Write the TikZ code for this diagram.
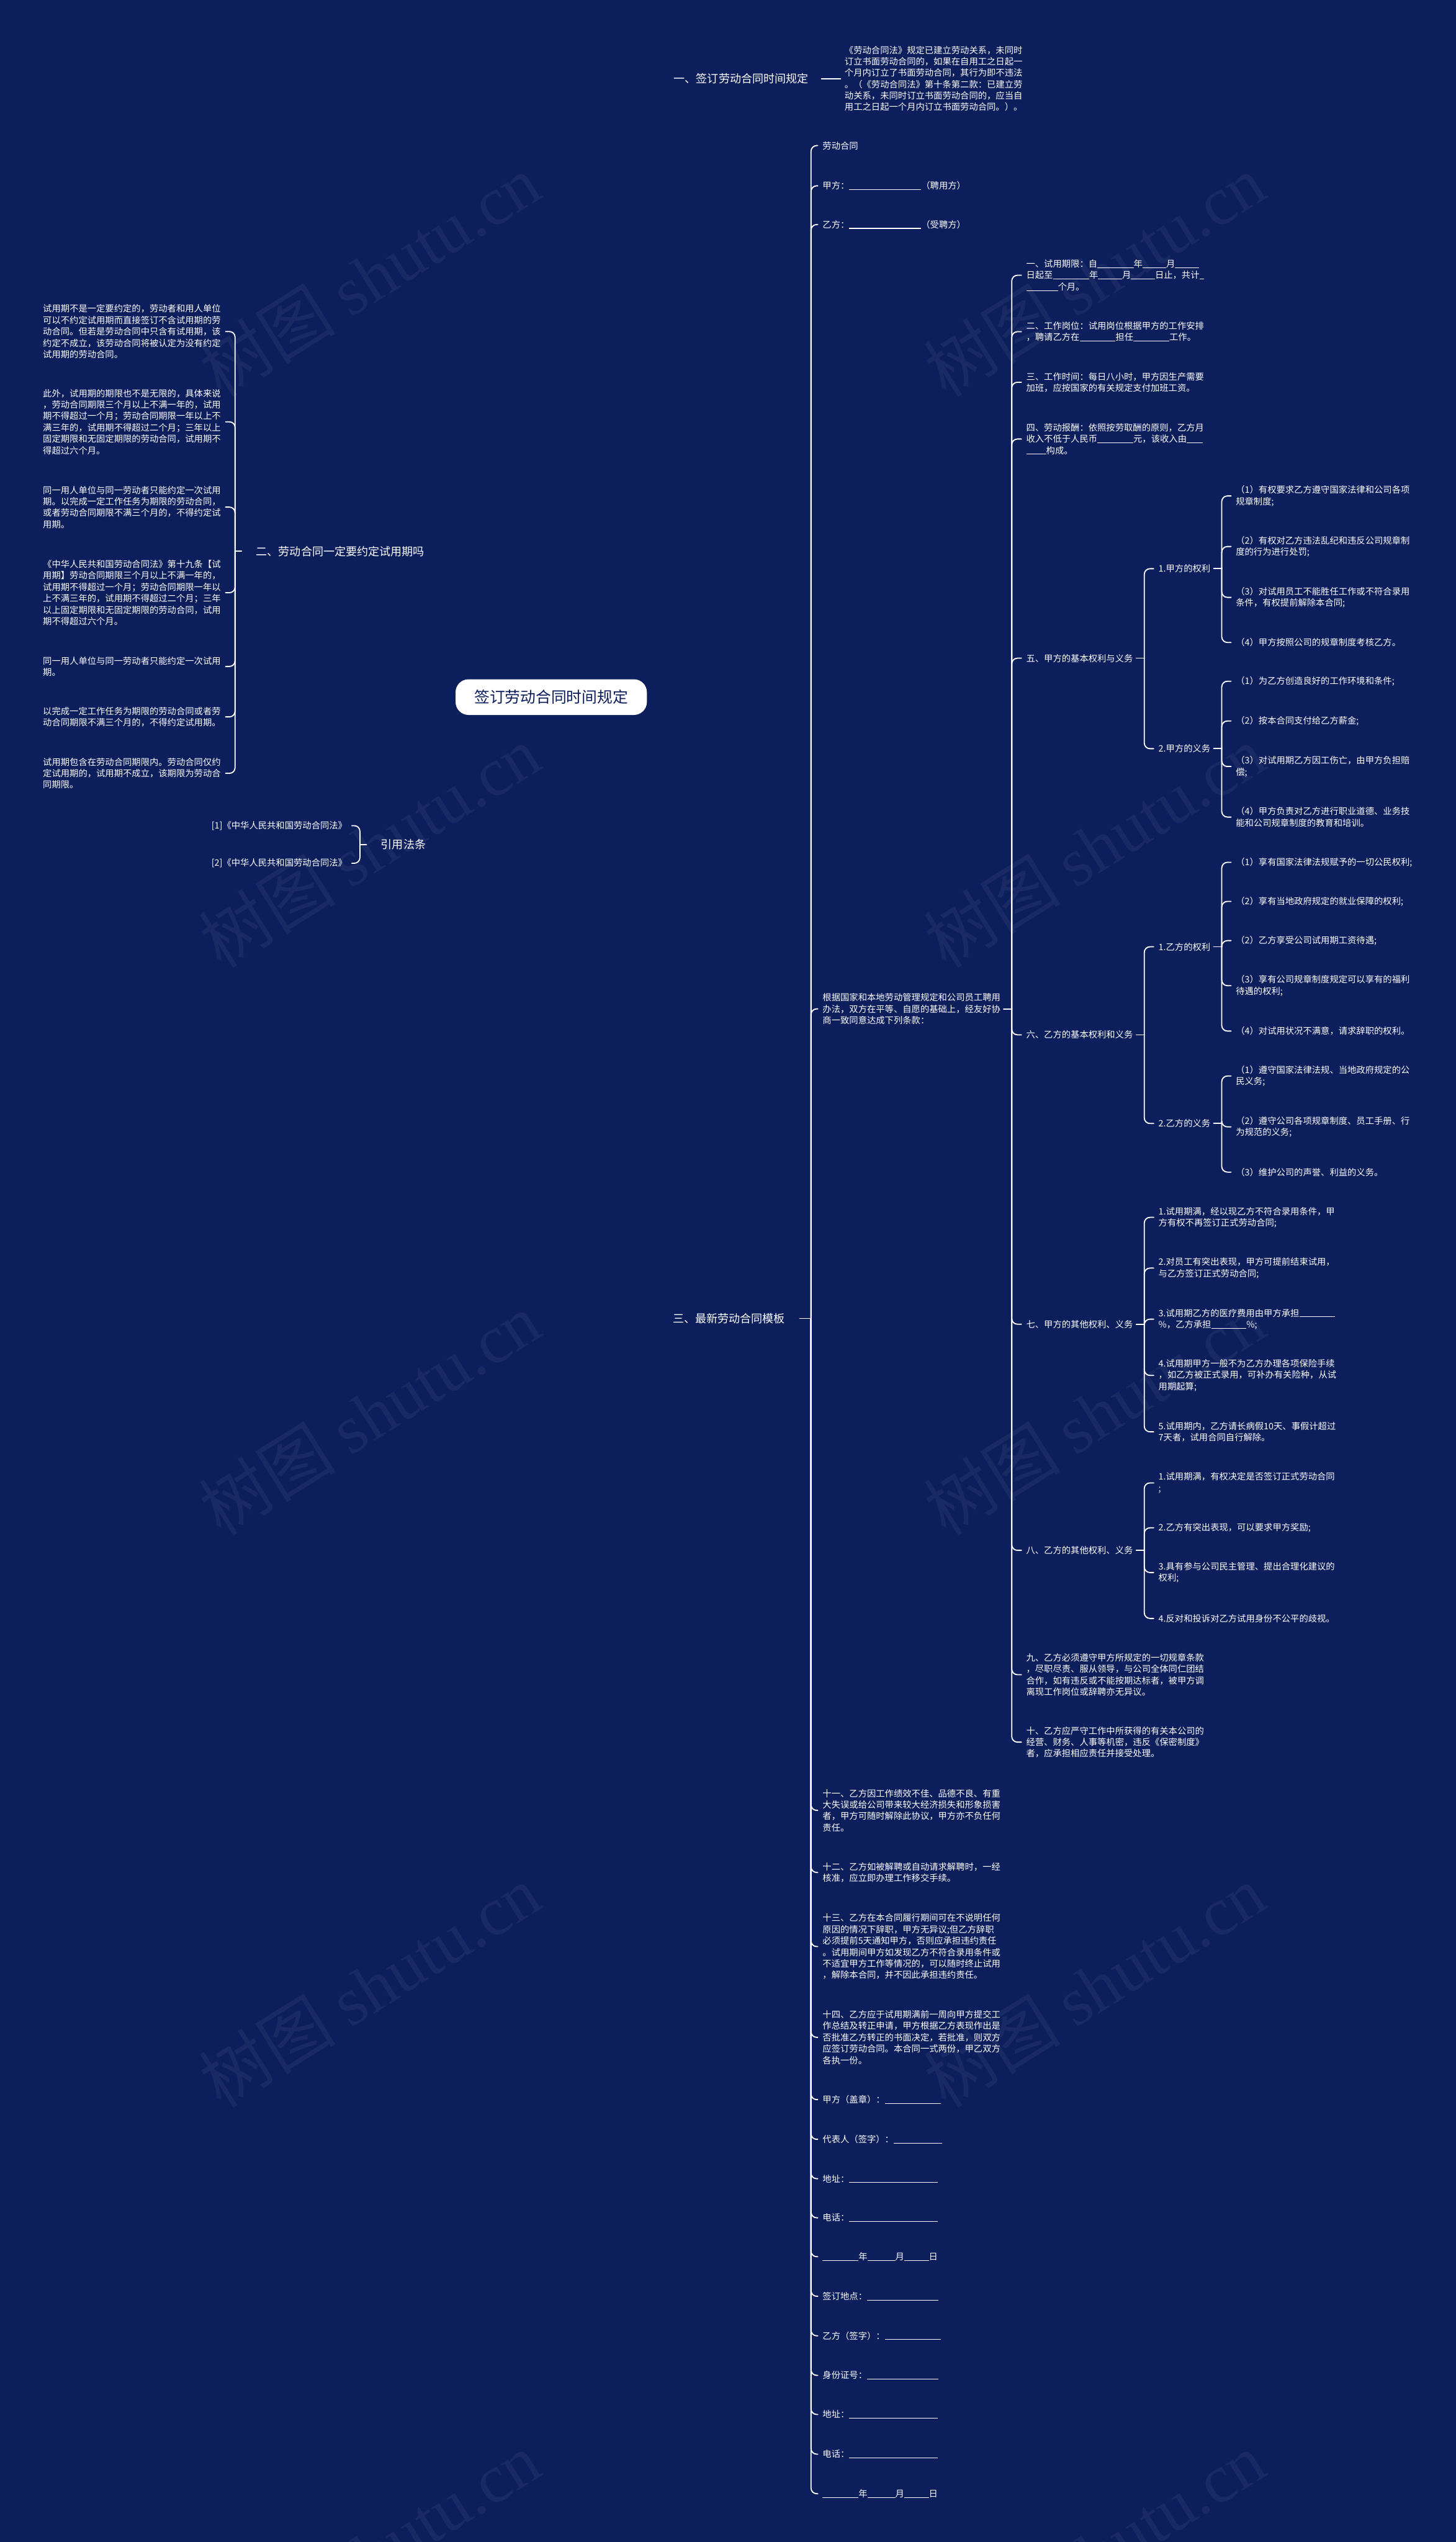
\documentclass[tikz,border=0pt]{standalone}
\usepackage{fontspec}
\setmainfont{Noto Sans CJK SC}
\newfontfamily\wmlatin{Liberation Serif}
\usetikzlibrary{calc}
\pgfdeclarelayer{bg}
\pgfsetlayers{bg,main}
\definecolor{navy}{RGB}{12,30,91}
\newcommand\blank[1]{\rule[-1.4pt]{#1mm}{1.2pt}}
\newcommand\smallfs{\fontsize{15.6pt}{20pt}\selectfont}
\newcommand\lvlfs{\fontsize{19.7pt}{24pt}\selectfont}
\newcommand\rootfs{\fontsize{27pt}{32pt}\selectfont}
\newcommand\kidsR[4]{%
  \draw[conn] ($(#1.east)+(#2,0)$) -- ($(#1.east)+(#3,0)$);
  \foreach \c in {#4}{\draw[conn,rounded corners=3.5mm] ($(#1.east)+(#3,0)$) |- ($(\c.west)+(-3,0)$);}}
\newcommand\kidsL[4]{%
  \draw[conn] ($(#1.west)+(-#2,0)$) -- ($(#1.west)+(-#3,0)$);
  \foreach \c in {#4}{\draw[conn,rounded corners=3.5mm] ($(#1.west)+(-#3,0)$) |- ($(\c.east)+(3,0)$);}}
\begin{document}
\begin{tikzpicture}[x=1mm,y=-1mm,
 txt/.style={anchor=west,inner sep=0pt,outer sep=0pt,align=left,text=white,font=\smallfs},
 lvl/.style={anchor=west,inner sep=0pt,outer sep=0pt,text=white,font=\lvlfs},
 conn/.style={draw=white,line width=0.7mm,line cap=round},
 rootlink/.style={draw=white,line width=1.1mm,line cap=round},
 wm/.style={rotate=32,text=white,text opacity=0.05,font=\fontsize{120pt}{140pt}\selectfont,inner sep=0pt}]

\fill[navy] (0,0) rectangle (898,1568);
\useasboundingbox (0,0) rectangle (898,1568);

% watermarks
\foreach \wy [count=\i] in {170,522,872,1225,1575}{
  \node[wm] (wmL\i) at (228,\wy) {树图 {\wmlatin shutu.cn}};
  \node[wm] (wmR\i) at (675,\wy) {树图 {\wmlatin shutu.cn}};
}

% root
\node[fill=white,rounded corners=8mm,minimum width=118mm,minimum height=22mm,inner sep=0pt,text=navy,font=\rootfs] (root) at (340,430) {签订劳动合同时间规定};

% level 1
\node[lvl] (lab1) at (415.6,48.5) {一、签订劳动合同时间规定};
\node[lvl] (lab2) at (158,340) {二、劳动合同一定要约定试用期吗};
\node[lvl] (lab3) at (415,813.3) {三、最新劳动合同模板};
\node[lvl] (lab4) at (235,521) {引用法条};

% branch one
\node[txt] (t1) at (521,48.5) {《劳动合同法》规定已建立劳动关系，未同时\\订立书面劳动合同的，如果在自用工之日起一\\个月内订立了书面劳动合同，其行为即不违法\\。（《劳动合同法》第十条第二款：已建立劳\\动关系，未同时订立书面劳动合同的，应当自\\用工之日起一个月内订立书面劳动合同。）。};

% branch two (left)
\node[txt] (L1) at (26.5,204.5) {试用期不是一定要约定的，劳动者和用人单位\\可以不约定试用期而直接签订不含试用期的劳\\动合同。但若是劳动合同中只含有试用期，该\\约定不成立，该劳动合同将被认定为没有约定\\试用期的劳动合同。};
\node[txt] (L2) at (26.5,260.2) {此外，试用期的期限也不是无限的，具体来说\\，劳动合同期限三个月以上不满一年的，试用\\期不得超过一个月；劳动合同期限一年以上不\\满三年的，试用期不得超过二个月；三年以上\\固定期限和无固定期限的劳动合同，试用期不\\得超过六个月。};
\node[txt] (L3) at (26.5,312.8) {同一用人单位与同一劳动者只能约定一次试用\\期。以完成一定工作任务为期限的劳动合同，\\或者劳动合同期限不满三个月的，不得约定试\\用期。};
\node[txt] (L4) at (26.5,365.6) {《中华人民共和国劳动合同法》第十九条【试\\用期】劳动合同期限三个月以上不满一年的，\\试用期不得超过一个月；劳动合同期限一年以\\上不满三年的，试用期不得超过二个月；三年\\以上固定期限和无固定期限的劳动合同，试用\\期不得超过六个月。};
\node[txt] (L5) at (26.5,411.1) {同一用人单位与同一劳动者只能约定一次试用\\期。};
\node[txt] (L6) at (26.5,442.2) {以完成一定工作任务为期限的劳动合同或者劳\\动合同期限不满三个月的，不得约定试用期。};
\node[txt] (L7) at (26.5,477) {试用期包含在劳动合同期限内。劳动合同仅约\\定试用期的，试用期不成立，该期限为劳动合\\同期限。};

% references
\node[txt] (R1) at (130.5,509.3) {[1]《中华人民共和国劳动合同法》};
\node[txt] (R2) at (130.5,532.5) {[2]《中华人民共和国劳动合同法》};

% branch three children
\node[txt] (c1) at (507.4,89.8) {劳动合同};
\node[txt] (c2) at (507.4,114.6) {甲方：\blank{44.4}（聘用方）};
\node[txt] (c3) at (507.4,138.5) {乙方：\blank{44.4}（受聘方）};
\node[txt] (c4) at (507.4,622.3) {根据国家和本地劳动管理规定和公司员工聘用\\办法，双方在平等、自愿的基础上，经友好协\\商一致同意达成下列条款：};
\node[txt] (c5) at (507.4,1116.7) {十一、乙方因工作绩效不佳、品德不良、有重\\大失误或给公司带来较大经济损失和形象损害\\者，甲方可随时解除此协议，甲方亦不负任何\\责任。};
\node[txt] (c6) at (507.4,1155) {十二、乙方如被解聘或自动请求解聘时，一经\\核准，应立即办理工作移交手续。};
\node[txt] (c7) at (507.4,1200.7) {十三、乙方在本合同履行期间可在不说明任何\\原因的情况下辞职，甲方无异议;但乙方辞职\\必须提前5天通知甲方，否则应承担违约责任\\。试用期间甲方如发现乙方不符合录用条件或\\不适宜甲方工作等情况的，可以随时终止试用\\，解除本合同，并不因此承担违约责任。};
\node[txt] (c8) at (507.4,1256.7) {十四、乙方应于试用期满前一周向甲方提交工\\作总结及转正申请，甲方根据乙方表现作出是\\否批准乙方转正的书面决定，若批准，则双方\\应签订劳动合同。本合同一式两份，甲乙双方\\各执一份。};
\node[txt] (c9) at (507.4,1295.1) {甲方（盖章）：\blank{34.7}};
\node[txt] (c10) at (507.4,1319.6) {代表人（签字）：\blank{29.8}};
\node[txt] (c11) at (507.4,1343.9) {地址：\blank{54.4}};
\node[txt] (c12) at (507.4,1368) {电话：\blank{54.4}};
\node[txt] (c13) at (507.4,1392) {\blank{22.2}年\blank{17.2}月\blank{15.2}日};
\node[txt] (c14) at (507.4,1416.4) {签订地点：\blank{44.1}};
\node[txt] (c15) at (507.4,1440.8) {乙方（签字）：\blank{34.7}};
\node[txt] (c16) at (507.4,1465.2) {身份证号：\blank{44.1}};
\node[txt] (c17) at (507.4,1489.3) {地址：\blank{54.4}};
\node[txt] (c18) at (507.4,1513.8) {电话：\blank{54.4}};
\node[txt] (c19) at (507.4,1538.2) {\blank{22.2}年\blank{17.2}月\blank{15.2}日};

% clauses under c4
\node[txt] (g1) at (633,169.8) {一、试用期限：自\blank{22.4}年\blank{14.6}月\blank{14.6}\\日起至\blank{22.4}年\blank{14.8}月\blank{14.8}日止，共计\blank{2.9}\\\blank{19.5}个月。};
\node[txt] (g2) at (633,204.6) {二、工作岗位：试用岗位根据甲方的工作安排\\，聘请乙方在\blank{22.2}担任\blank{22.2}工作。};
\node[txt] (g3) at (633,235.8) {三、工作时间：每日八小时，甲方因生产需要\\加班，应按国家的有关规定支付加班工资。};
\node[txt] (g4) at (633,270.8) {四、劳动报酬：依照按劳取酬的原则，乙方月\\收入不低于人民币\blank{22.2}元，该收入由\blank{9.8}\\\blank{12.3}构成。};
\node[txt] (g5) at (633,406) {五、甲方的基本权利与义务};
\node[txt] (g6) at (633,638.3) {六、乙方的基本权利和义务};
\node[txt] (g7) at (633,816.8) {七、甲方的其他权利、义务};
\node[txt] (g8) at (633,956.3) {八、乙方的其他权利、义务};
\node[txt] (g9) at (633,1033) {九、乙方必须遵守甲方所规定的一切规章条款\\，尽职尽责、服从领导，与公司全体同仁团结\\合作，如有违反或不能按期达标者，被甲方调\\离现工作岗位或辞聘亦无异议。};
\node[txt] (g10) at (633,1074.6) {十、乙方应严守工作中所获得的有关本公司的\\经营、财务、人事等机密，违反《保密制度》\\者，应承担相应责任并接受处理。};

% five
\node[txt] (f1) at (714.6,350.8) {1.甲方的权利};
\node[txt] (f2) at (714.6,461.8) {2.甲方的义务};
\node[txt] (f1a) at (762.3,305.9) {（1）有权要求乙方遵守国家法律和公司各项\\规章制度;};
\node[txt] (f1b) at (762.3,337.1) {（2）有权对乙方违法乱纪和违反公司规章制\\度的行为进行处罚;};
\node[txt] (f1c) at (762.3,368.5) {（3）对试用员工不能胜任工作或不符合录用\\条件，有权提前解除本合同;};
\node[txt] (f1d) at (762.3,396.3) {（4）甲方按照公司的规章制度考核乙方。};
\node[txt] (f2a) at (762.3,420.2) {（1）为乙方创造良好的工作环境和条件;};
\node[txt] (f2b) at (762.3,444.7) {（2）按本合同支付给乙方薪金;};
\node[txt] (f2c) at (762.3,472.8) {（3）对试用期乙方因工伤亡，由甲方负担赔\\偿;};
\node[txt] (f2d) at (762.3,504) {（4）甲方负责对乙方进行职业道德、业务技\\能和公司规章制度的教育和培训。};

% six
\node[txt] (s1) at (714.6,584) {1.乙方的权利};
\node[txt] (s2) at (714.6,693) {2.乙方的义务};
\node[txt] (s1a) at (762.3,531.9) {（1）享有国家法律法规赋予的一切公民权利;};
\node[txt] (s1b) at (762.3,556) {（2）享有当地政府规定的就业保障的权利;};
\node[txt] (s1c) at (762.3,580.2) {（2）乙方享受公司试用期工资待遇;};
\node[txt] (s1d) at (762.3,608) {（3）享有公司规章制度规定可以享有的福利\\待遇的权利;};
\node[txt] (s1e) at (762.3,636) {（4）对试用状况不满意，请求辞职的权利。};
\node[txt] (s2a) at (762.3,663.7) {（1）遵守国家法律法规、当地政府规定的公\\民义务;};
\node[txt] (s2b) at (762.3,695.1) {（2）遵守公司各项规章制度、员工手册、行\\为规范的义务;};
\node[txt] (s2c) at (762.3,723) {（3）维护公司的声誉、利益的义务。};

% seven
\node[txt] (v1) at (714.6,750.9) {1.试用期满，经以现乙方不符合录用条件，甲\\方有权不再签订正式劳动合同;};
\node[txt] (v2) at (714.6,782.2) {2.对员工有突出表现，甲方可提前结束试用，\\与乙方签订正式劳动合同;};
\node[txt] (v3) at (714.6,813.7) {3.试用期乙方的医疗费用由甲方承担\blank{22}\\\%，乙方承担\blank{21.8}\%;};
\node[txt] (v4) at (714.6,848.4) {4.试用期甲方一般不为乙方办理各项保险手续\\，如乙方被正式录用，可补办有关险种，从试\\用期起算;};
\node[txt] (v5) at (714.6,883.2) {5.试用期内，乙方请长病假10天、事假计超过\\7天者，试用合同自行解除。};

% eight
\node[txt] (e1) at (714.6,914.7) {1.试用期满，有权决定是否签订正式劳动合同\\;};
\node[txt] (e2) at (714.6,942.4) {2.乙方有突出表现，可以要求甲方奖励;};
\node[txt] (e3) at (714.6,970) {3.具有参与公司民主管理、提出合理化建议的\\权利;};
\node[txt] (e4) at (714.6,998.3) {4.反对和投诉对乙方试用身份不公平的歧视。};

\begin{pgfonlayer}{bg}
% root links
\draw[rootlink] (root.center) .. controls ($(root.center)+(5,-280)$) and ($(lab1.west)+(-56,0)$) .. ($(lab1.west)+(-8,0)$);
\draw[rootlink] (root.center) .. controls ($(root.center)+(5,280)$) and ($(lab3.west)+(-55,0)$) .. ($(lab3.west)+(-8,0)$);
\draw[rootlink] (root.center) .. controls ($(root.center)+(-2,-70)$) and ($(lab2.east)+(48,0)$) .. ($(lab2.east)+(10,0)$);
\draw[rootlink] (root.center) .. controls ($(root.center)+(-2,70)$) and ($(lab4.east)+(48,0)$) .. ($(lab4.east)+(9,0)$);
\end{pgfonlayer}

% sub connectors
\draw[conn] ($(lab1.east)+(8,0)$) -- ($(t1.west)+(-2.5,0)$);
\kidsL{lab2}{9}{13}{L1,L2,L3,L4,L5,L6,L7}
\kidsL{lab4}{9}{13}{R1,R2}
\kidsR{lab3}{9}{16}{c1,c2,c3,c4,c5,c6,c7,c8,c9,c10,c11,c12,c13,c14,c15,c16,c17,c18,c19}
\kidsR{c4}{2}{7}{g1,g2,g3,g4,g5,g6,g7,g8,g9,g10}
\kidsR{g5}{2}{7}{f1,f2}
\kidsR{f1}{2}{7}{f1a,f1b,f1c,f1d}
\kidsR{f2}{2}{7}{f2a,f2b,f2c,f2d}
\kidsR{g6}{2}{7}{s1,s2}
\kidsR{s1}{2}{7}{s1a,s1b,s1c,s1d,s1e}
\kidsR{s2}{2}{7}{s2a,s2b,s2c}
\kidsR{g7}{2}{7}{v1,v2,v3,v4,v5}
\kidsR{g8}{2}{7}{e1,e2,e3,e4}
\end{tikzpicture}
\end{document}
